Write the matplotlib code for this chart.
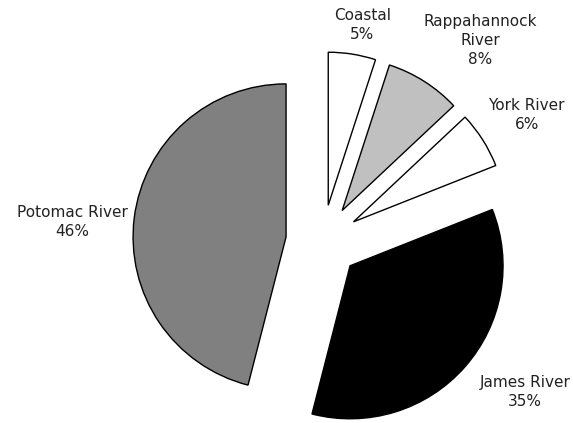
import math

import matplotlib
matplotlib.use('Agg')
import matplotlib.pyplot as plt

# Data
regions = ['Coastal', 'Rappahannock\nRiver', 'York River', 'James River', 'Potomac River']
shares = [5, 8, 6, 35, 46]
colors = ['#FFFFFF', '#C0C0C0', '#FFFFFF', '#000000', '#808080']

# label placement: (angle clockwise from 12 o'clock in degrees, distance in radii)
label_pos = [(10.4, 1.44), (38.1, 1.67), (58.2, 1.57), (126.6, 1.65), (274.4, 1.64)]

fig = plt.figure(figsize=(5.73, 4.23), dpi=100)
ax = fig.add_axes([0, 0, 1, 1])

# pixel geometry: centre at (322.5, 241.5), radius 153 px
r_px = 153.0
cx, cy = 322.5, 241.5
W, H = 573, 423

ax.pie(shares, colors=colors, startangle=90, counterclock=False,
       explode=[0.24] * len(shares), radius=1.0,
       wedgeprops=dict(edgecolor='black', linewidth=1.0))

for name, val, (ang, dist) in zip(regions, shares, label_pos):
    th = math.radians(ang)
    x = dist * math.sin(th)
    y = dist * math.cos(th)
    ax.text(x, y, f'{name}\n{val}%', ha='center', va='center',
            fontsize=11, color='#222222', linespacing=1.3,
            family='DejaVu Sans')

ax.set_xlim(-cx / r_px, (W - cx) / r_px)
ax.set_ylim(-(H - cy) / r_px, cy / r_px)
ax.set_aspect('equal', adjustable='box')
ax.axis('off')

fig.savefig('out.png', dpi=100, facecolor='white')
